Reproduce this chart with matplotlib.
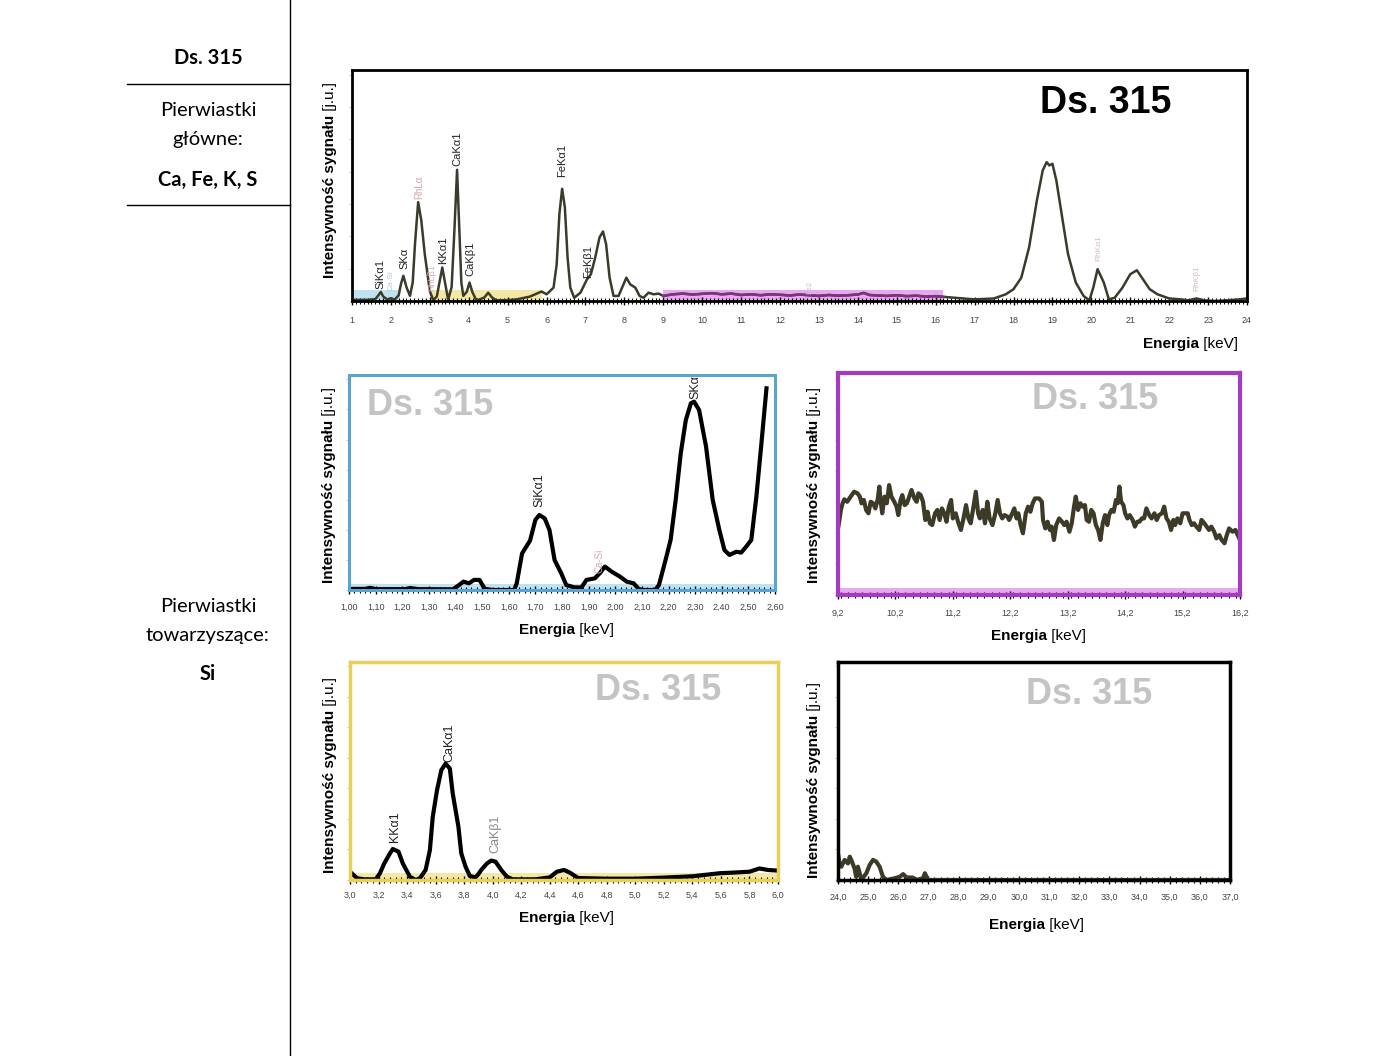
import matplotlib.pyplot as plt
import numpy as np
from matplotlib.ticker import MultipleLocator, FixedLocator, FuncFormatter

plt.rcParams['font.family'] = ['Liberation Sans', 'DejaVu Sans']

# widmo przeglądowe 1-24 keV
e_main = [1.00, 1.20, 1.40, 1.60, 1.68, 1.74, 1.80, 1.90, 2.00, 2.10, 2.20, 2.26, 2.32, 2.40, 2.49,
          2.56, 2.62, 2.70, 2.78, 2.87, 3.00, 3.09, 3.18, 3.26, 3.32, 3.38, 3.47, 3.56, 3.63, 3.70,
          3.76, 3.81, 3.86, 3.95, 4.02, 4.09, 4.18, 4.25, 4.40, 4.50, 4.60, 4.71, 5.00, 5.23, 5.57,
          5.87, 6.00, 6.18, 6.26, 6.33, 6.40, 6.47, 6.54, 6.61, 6.71, 6.87, 7.04, 7.14, 7.25, 7.36,
          7.45, 7.53, 7.62, 7.72, 7.85, 7.94, 8.05, 8.15, 8.28, 8.39, 8.49, 8.62, 8.75, 8.88, 9.00,
          9.25, 9.50, 9.75, 10.00, 10.25, 10.50, 10.75, 11.00, 11.25, 11.50, 11.75, 12.00, 12.25,
          12.50, 12.75, 13.00, 13.25, 13.50, 13.75, 14.00, 14.15, 14.30, 14.50, 14.75, 15.00, 15.25,
          15.50, 15.75, 16.00, 16.20, 16.50, 17.00, 17.50, 17.80, 18.00, 18.20, 18.40, 18.60, 18.75,
          18.85, 18.92, 19.00, 19.10, 19.25, 19.40, 19.60, 19.80, 19.95, 20.05, 20.16, 20.32, 20.45,
          20.60, 20.80, 21.00, 21.17, 21.30, 21.50, 21.70, 22.00, 22.30, 22.50, 22.70, 22.90, 23.20,
          23.50, 23.80, 24.00]
i_main = [0.5, 0.5, 0.5, 0.8, 2.5, 3.9, 2.0, 0.7, 1.2, 0.6, 2.5, 7.5, 10.9, 6.0, 2.2,
          8.0, 25.0, 42.8, 35.0, 20.3, 4.3, 0.3, 2.0, 9.0, 14.5, 9.0, 0.6, 6.0, 30.0, 56.8,
          30.0, 8.0, 2.2, 4.0, 8.0, 4.0, 0.8, 0.5, 1.5, 3.6, 1.5, 0.3, 0.4, 0.7, 1.9,
          4.1, 2.9, 5.8, 15.9, 37.7, 48.6, 40.6, 18.8, 5.8, 1.4, 3.6, 9.4, 11.6, 18.8, 27.5,
          30.1, 24.6, 10.1, 2.2, 2.2, 5.8, 10.1, 7.2, 5.8, 2.2, 1.4, 3.6, 2.9, 3.2, 2.2,
          2.9, 3.2, 2.8, 3.1, 3.4, 2.9, 3.2, 2.6, 2.9, 2.5, 2.9, 2.7, 2.4,
          2.8, 2.5, 2.2, 2.6, 2.3, 2.5, 2.8, 3.5, 2.6, 2.4, 2.2, 2.5, 2.1,
          2.3, 1.9, 2.1, 1.8, 1.4, 0.7, 1.1, 2.9, 5.1, 10.1, 23.2, 43.5, 56.5,
          60.1, 58.7, 59.4, 52.2, 36.2, 20.3, 8.0, 2.2, 0.3, 5.8, 13.8, 8.0, 0.7,
          1.4, 5.8, 11.6, 13.3, 10.1, 5.1, 2.9, 1.1, 0.7, 0.3, 1.1, 0.3, 0.0,
          0.3, 0.7, 1.1]
main_labels = [("SiKα1", 1.74, 5.2, "#222222", 8), ("Ca-Si", 2.00, 4.3, "#b9c6d6", 6),
               ("SKα", 2.36, 13.9, "#222222", 8), ("RhLα", 2.74, 44.3, "#d4a3ad", 7),
               ("RhLβ1", 3.04, 4.3, "#d8b0c0", 6.5), ("KKα1", 3.34, 16.0, "#222222", 8),
               ("CaKα1", 3.70, 58.3, "#222222", 8), ("CaKβ1", 4.04, 10.9, "#222222", 8),
               ("FeKα1", 6.40, 53.5, "#222222", 8), ("FeKβ1", 7.08, 10.0, "#222222", 8),
               ("Fe2", 12.77, 3.0, "#d8b8c8", 5.5), ("RhKα1", 20.20, 17.4, "#d8b8c0", 6),
               ("RhKβ1", 22.70, 4.3, "#d8b8c0", 6)]
main_ticks = list(range(1, 25))

# fragment 1,00-2,60 keV
e_si = [1.00, 1.06, 1.08, 1.10, 1.21, 1.23, 1.26, 1.39, 1.41, 1.43, 1.45, 1.47, 1.49, 1.51, 1.54,
        1.62, 1.63, 1.65, 1.68, 1.70, 1.715, 1.735, 1.753, 1.772, 1.797, 1.816, 1.847, 1.873, 1.892,
        1.923, 1.942, 1.961, 1.987, 2.018, 2.043, 2.069, 2.088, 2.10, 2.15, 2.164, 2.189, 2.208,
        2.227, 2.246, 2.265, 2.284, 2.296, 2.315, 2.341, 2.366, 2.391, 2.410, 2.429, 2.455, 2.473,
        2.492, 2.511, 2.530, 2.549, 2.568]
i_si = [0.5, 0.5, 1.0, 0.4, 0.4, 0.9, 0.4, 0.3, 2.0, 3.9, 3.1, 4.7, 4.7, 0.5, 0.0,
        0.0, 3.1, 17.0, 23.0, 32.6, 34.9, 33.3, 27.9, 14.0, 7.8, 2.3, 1.2, 1.2, 4.7,
        5.4, 7.8, 10.9, 8.5, 6.2, 3.9, 3.1, 0.5, 0.0, 0.0, 2.3, 14.0, 23.3,
        41.9, 63.6, 79.0, 86.8, 87.6, 83.7, 66.7, 41.9, 27.9, 18.6, 16.3, 17.8, 17.4,
        20.2, 23.3, 43.4, 68.2, 93.8]
si_labels = [("SiKα1", 1.715, 38.6, "#222222", 9), ("Ca-Si", 1.94, 7.9, "#d9a8b4", 7),
             ("SKα", 2.30, 88.8, "#222222", 9)]
si_ticks = [1.0, 1.1, 1.2, 1.3, 1.4, 1.5, 1.6, 1.7, 1.8, 1.9, 2.0, 2.1, 2.2, 2.3, 2.4, 2.5, 2.6]

# fragment 9,2-16,2 keV
e_fe = [9.20, 9.22, 9.25, 9.28, 9.31, 9.36, 9.42, 9.48, 9.54, 9.58, 9.61, 9.65, 9.69, 9.73, 9.77,
        9.81, 9.85, 9.89, 9.92, 9.94, 9.97, 10.01, 10.05, 10.09, 10.13, 10.18, 10.22, 10.25, 10.29,
        10.32, 10.36, 10.40, 10.44, 10.48, 10.53, 10.57, 10.60, 10.64, 10.68, 10.72, 10.76, 10.80,
        10.84, 10.89, 10.93, 10.97, 11.01, 11.05, 11.09, 11.13, 11.17, 11.20, 11.25, 11.29, 11.34,
        11.38, 11.43, 11.47, 11.51, 11.55, 11.60, 11.64, 11.67, 11.72, 11.76, 11.80, 11.84, 11.89,
        11.94, 11.98, 12.02, 12.06, 12.10, 12.15, 12.18, 12.22, 12.27, 12.31, 12.34, 12.38, 12.42,
        12.47, 12.51, 12.55, 12.59, 12.63, 12.70, 12.75, 12.77, 12.81, 12.85, 12.89, 12.92, 12.96,
        13.00, 13.05, 13.10, 13.14, 13.18, 13.23, 13.27, 13.31, 13.34, 13.38, 13.42, 13.46, 13.50,
        13.53, 13.57, 13.61, 13.65, 13.69, 13.73, 13.77, 13.81, 13.85, 13.89, 13.92, 13.96, 14.00,
        14.04, 14.07, 14.10, 14.13, 14.17, 14.20, 14.24, 14.28, 14.33, 14.37, 14.41, 14.45, 14.49,
        14.53, 14.57, 14.62, 14.66, 14.71, 14.75, 14.79, 14.84, 14.88, 14.92, 14.96, 15.00, 15.04,
        15.07, 15.11, 15.16, 15.20, 15.24, 15.29, 15.32, 15.36, 15.40, 15.44, 15.49, 15.53, 15.58,
        15.62, 15.66, 15.70, 15.75, 15.79, 15.84, 15.88, 15.93, 15.97, 16.01, 16.07, 16.12, 16.16,
        16.20]
i_fe = [30.0, 33.0, 38.3, 41.3, 43.1, 42.0, 44.3, 46.5, 45.8, 44.3, 41.3, 42.8, 38.3, 36.8, 42.0,
        41.3, 39.0, 42.8, 48.8, 42.8, 36.8, 44.3, 41.3, 49.5, 44.3, 42.0, 39.8, 36.0, 42.8,
        45.0, 40.5, 41.3, 44.3, 47.3, 43.5, 42.0, 45.8, 45.0, 42.0, 33.8, 37.5, 32.3,
        31.5, 36.8, 38.3, 33.8, 39.0, 36.8, 33.0, 39.8, 42.8, 34.5, 36.8, 33.0, 29.3,
        33.8, 40.5, 34.5, 32.3, 38.3, 46.5, 36.8, 34.5, 38.3, 32.3, 42.0, 34.5, 31.5,
        36.8, 42.8, 36.8, 34.5, 36.0, 35.3, 33.8, 36.0, 39.0, 34.5, 36.8, 31.5, 27.8,
        36.8, 39.8, 37.5, 41.3, 43.5, 43.5, 42.0, 33.8, 30.0, 33.0, 29.3, 30.8, 24.8,
        31.5, 34.5, 33.0, 31.5, 33.0, 28.5, 32.3, 39.8, 44.3, 38.3, 41.3, 39.8, 40.5,
        33.8, 33.0, 38.3, 36.8, 31.5, 29.3, 24.8, 32.3, 36.0, 31.5, 36.0, 38.3, 37.5,
        42.8, 41.3, 48.8, 42.0, 40.5, 36.8, 34.5, 36.0, 33.8, 30.8, 33.0, 33.0, 34.5,
        34.5, 39.0, 36.0, 34.5, 36.8, 33.8, 36.0, 36.8, 39.8, 34.5, 33.0, 29.3, 33.8,
        31.5, 34.5, 32.3, 36.8, 36.8, 36.8, 33.8, 31.5, 32.3, 30.8, 29.3, 33.8, 32.3,
        30.8, 29.3, 30.8, 28.5, 25.5, 27.0, 24.8, 23.3, 27.0, 30.0, 28.5, 29.3, 27.0,
        24.8]
fe_ticks = [9.2, 10.2, 11.2, 12.2, 13.2, 14.2, 15.2, 16.2]

# fragment 3,0-6,0 keV
e_ca = [3.00, 3.05, 3.10, 3.18, 3.21, 3.24, 3.28, 3.30, 3.34, 3.37, 3.42, 3.46, 3.49, 3.53, 3.56,
        3.58, 3.61, 3.64, 3.67, 3.70, 3.72, 3.76, 3.78, 3.81, 3.84, 3.88, 3.90, 3.92, 3.96, 3.99,
        4.02, 4.06, 4.10, 4.14, 4.30, 4.40, 4.45, 4.50, 4.54, 4.60, 4.80, 5.00, 5.20, 5.40, 5.59,
        5.69, 5.80, 5.87, 5.93, 6.00]
i_ca = [3.8, 0.8, 0.3, 0.3, 3.1, 7.6, 12.2, 14.2, 13.0, 7.6, 1.5, 0.0, 0.8, 4.6, 13.7,
        29.0, 41.2, 50.4, 53.4, 51.1, 39.7, 24.4, 12.2, 6.1, 1.8, 1.2, 2.7, 4.6, 7.6, 8.9,
        8.4, 4.6, 1.5, 0.3, 0.3, 1.2, 3.8, 4.6, 3.4, 0.9, 0.6, 0.6, 1.1, 1.7, 3.1,
        3.4, 3.8, 5.3, 4.6, 4.3]
ca_labels = [("KKα1", 3.315, 17.4, "#222222", 9), ("CaKα1", 3.70, 54.0, "#222222", 9),
             ("CaKβ1", 4.02, 12.4, "#8a8a8a", 9)]
ca_ticks = [3.0, 3.2, 3.4, 3.6, 3.8, 4.0, 4.2, 4.4, 4.6, 4.8, 5.0, 5.2, 5.4, 5.6, 5.8, 6.0]

# fragment 24,0-37,0 keV
e_hi = [24.00, 24.05, 24.11, 24.22, 24.33, 24.39, 24.44, 24.55, 24.60, 24.66, 24.72, 24.77,
        24.94, 25.05, 25.16, 25.27, 25.38, 25.49, 25.60, 25.88, 26.05, 26.16, 26.27, 26.49,
        26.60, 26.82, 26.88, 26.99, 37.00]
i_hi = [12.2, 7.6, 6.1, 9.2, 7.6, 10.7, 9.2, 5.3, 1.5, 6.1, 3.1, 0.0,
        3.1, 6.9, 9.2, 8.4, 6.1, 1.5, 0.0, 0.8, 1.5, 2.7, 1.2, 1.1,
        0.0, 0.8, 3.1, 0.0, 0.0]
hi_ticks = list(range(24, 38))

W, H = 1400, 1056
fig = plt.figure(figsize=(14, 10.56), dpi=100)


def rect(l, t, r, b):
    return [l / W, 1 - b / H, (r - l) / W, (b - t) / H]


def fx(x):
    return x / W


def fy(y):
    return 1 - y / H


# lewa kolumna opisu
fig.add_artist(plt.Line2D([fx(290), fx(290)], [0, 1], color='black', lw=1))
for yy in (84, 205):
    fig.add_artist(plt.Line2D([fx(127), fx(290)], [fy(yy), fy(yy)], color='black', lw=1))
side = dict(family=['Lato', 'DejaVu Sans'], ha='center', va='center', fontsize=14.5)
fig.text(fx(208), fy(58), "Ds. 315", weight='bold', **side)
fig.text(fx(208), fy(111), "Pierwiastki", **side)
fig.text(fx(208), fy(140), "główne:", **side)
fig.text(fx(208), fy(180), "Ca, Fe, K, S", weight='bold', **side)
fig.text(fx(208), fy(606), "Pierwiastki", **side)
fig.text(fx(208), fy(635), "towarzyszące:", **side)
fig.text(fx(208), fy(674), "Si", weight='bold', **side)


def setup(ax, xlim, ticks, minor, fmt, color, lw, pad):
    ax.set_xlim(*xlim)
    ax.set_ylim(0, 100)
    for s in ax.spines.values():
        s.set_color(color)
        s.set_linewidth(lw)
    ax.xaxis.set_major_locator(FixedLocator(ticks))
    ax.xaxis.set_minor_locator(MultipleLocator(minor))
    ax.xaxis.set_major_formatter(FuncFormatter(fmt))
    ax.tick_params(axis='x', which='both', direction='inout', color='black')
    ax.tick_params(axis='x', which='major', length=6, width=1, labelsize=6.5,
                   labelcolor='#444444', pad=pad)
    ax.tick_params(axis='x', which='minor', length=4, width=0.8)
    ax.yaxis.set_major_locator(MultipleLocator(14))
    ax.tick_params(axis='y', which='major', direction='out', length=2, width=0.6,
                   color='#bbbbbb', labelleft=False)


def labels(ax, x, y):
    t = fig.text(fx(x), fy(y), "Intensywność sygnału", rotation=90, ha='center',
                 va='bottom', weight='bold', fontsize=11)
    ax.annotate(" [j.u.]", xy=(0.5, 1), xycoords=t, rotation=90, ha='center',
                va='bottom', fontsize=11, annotation_clip=False)


def energia(ax, x, y):
    t = fig.text(fx(x), fy(y), "Energia", ha='left', va='center', weight='bold', fontsize=11)
    ax.annotate(" [keV]", xy=(1, 0.5), xycoords=t, ha='left', va='center',
                fontsize=11, annotation_clip=False)


def peaks(ax, items):
    for txt, xe, yi, col, fs in items:
        ax.text(xe, yi, txt, rotation=90, ha='center', va='bottom', color=col,
                fontsize=fs, clip_on=True)


comma1 = lambda v, p: f"{v:.1f}".replace('.', ',')
comma2 = lambda v, p: f"{v:.2f}".replace('.', ',')

# panel główny
ax = fig.add_axes(rect(352, 70, 1247, 301))
setup(ax, (1, 24), main_ticks, 0.1, lambda v, p: f"{v:.0f}", 'black', 2, 8)
ax.axvspan(1.0, 2.23, ymin=0, ymax=0.048, color='#bfe2f3', lw=0)
ax.axvspan(3.0, 5.88, ymin=0, ymax=0.048, color='#f5e8a6', lw=0)
ax.axvspan(9.0, 16.2, ymin=0, ymax=0.048, color='#e9a8f2', lw=0)
em = np.array(e_main)
im = np.array(i_main)
ax.plot(em, im, color='#3b3b2b', lw=1.8)
mask = (em >= 9.0) & (em <= 16.2)
ax.plot(em[mask], im[mask], color='#7a357a', lw=1.8)
peaks(ax, main_labels)
ax.text(0.842, 0.857, "Ds. 315", transform=ax.transAxes, ha='center', va='center',
        fontsize=27, weight='bold', color='black')
labels(ax, 330, 278)
energia(ax, 1143, 344)

# panel Si
ax = fig.add_axes(rect(349, 375, 775, 590))
setup(ax, (1.0, 2.6), si_ticks, 0.02, comma2, '#5aa5d0', 2.2, 6.5)
ax.axhspan(0, 3.0, color='#bfe2f3', lw=0)
ax.plot(e_si, i_si, color='black', lw=3)
peaks(ax, si_labels)
ax.text(0.19, 0.86, "Ds. 315", transform=ax.transAxes, ha='center', va='center',
        fontsize=26, weight='bold', color='#c4c4c4')
labels(ax, 329, 583)
energia(ax, 519, 630)

# panel 9,2-16,2
ax = fig.add_axes(rect(838, 373, 1240, 595))
setup(ax, (9.2, 16.2), fe_ticks, 0.125, comma1, '#a53cc0', 3, 7)
ax.axhspan(0, 3.2, color='#e9a8f2', lw=0)
ax.plot(e_fe, i_fe, color='#3d3a28', lw=3)
ax.text(0.64, 0.88, "Ds. 315", transform=ax.transAxes, ha='center', va='center',
        fontsize=26, weight='bold', color='#c4c4c4')
labels(ax, 814, 583)
energia(ax, 991, 636)

# panel 3,0-6,0
ax = fig.add_axes(rect(350, 662, 778, 880))
setup(ax, (3.0, 6.0), ca_ticks, 0.04, comma1, '#e6cf5a', 2.5, 4.7)
ax.axhspan(0, 3.0, color='#f5e8a6', lw=0)
ax.plot(e_ca, i_ca, color='black', lw=3)
peaks(ax, ca_labels)
ax.text(0.72, 0.87, "Ds. 315", transform=ax.transAxes, ha='center', va='center',
        fontsize=26, weight='bold', color='#c4c4c4')
labels(ax, 330, 873)
energia(ax, 519, 918)

# panel 24,0-37,0
ax = fig.add_axes(rect(838, 662, 1230, 880))
setup(ax, (24, 37), hi_ticks, 0.2, comma1, 'black', 2.5, 6.5)
ax.plot(e_hi, i_hi, color='#3d3a28', lw=3)
ax.text(0.64, 0.85, "Ds. 315", transform=ax.transAxes, ha='center', va='center',
        fontsize=26, weight='bold', color='#c4c4c4')
labels(ax, 814, 878)
energia(ax, 989, 925)

fig.savefig("out.png", dpi=100)
